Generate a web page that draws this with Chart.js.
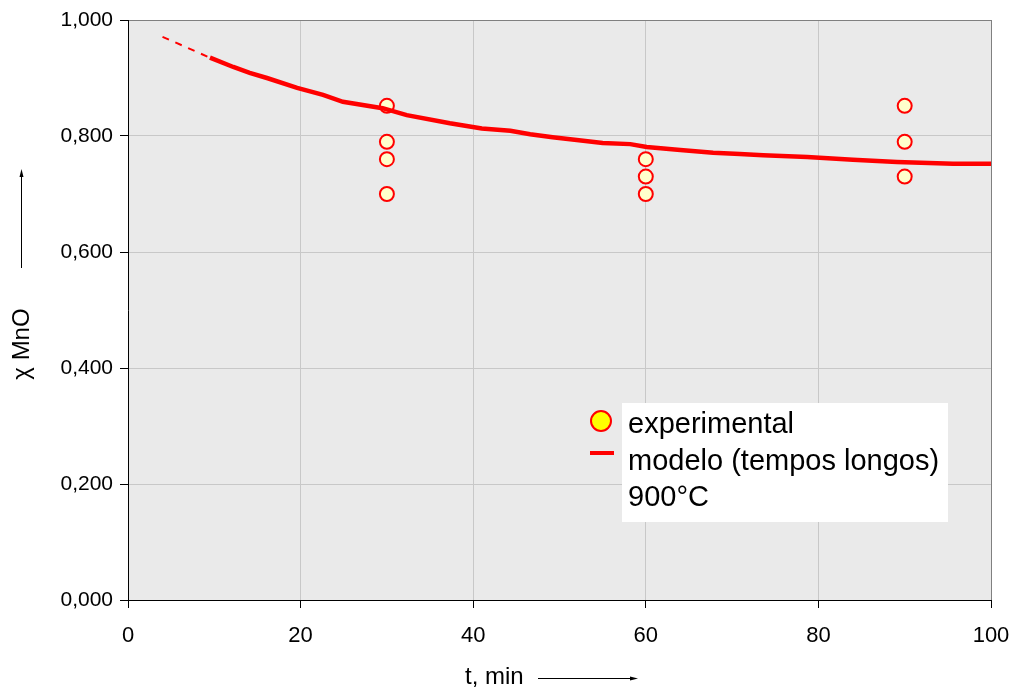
<!DOCTYPE html>
<html>
<head>
<meta charset="utf-8">
<script src="https://cdn.jsdelivr.net/npm/chart.js@4.4.0/dist/chart.umd.min.js"></script>
<style>
  html, body { margin: 0; padding: 0; background: #fff; }
  #wrap { width: 1015px; height: 688px; position: relative; }
</style>
</head>
<body>
<div id="wrap"><canvas id="chart"></canvas></div>
<script>
// experimental points (t in min, chi MnO)
const expT = [30, 30, 30, 30, 60, 60, 60, 90, 90, 90];
const expX = [0.852, 0.790, 0.760, 0.700, 0.760, 0.730, 0.700, 0.852, 0.790, 0.730];

// model (long times), dashed start then solid curve
const dashT = [4, 9.5];
const dashX = [0.971, 0.935];
const modelT = [9.5, 12.2, 14.1, 16.1, 19.6, 22.6, 24.9, 29.5, 32.3, 37.3, 41, 44.3, 46.6, 49.2,
                52, 55, 58.2, 60.1, 64, 67.8, 70.9, 73.6, 78.7, 84, 89.1, 95.6, 100];
const modelX = [0.935, 0.919, 0.909, 0.900, 0.883, 0.871, 0.859, 0.848, 0.836, 0.822, 0.813, 0.809, 0.803, 0.798,
                0.793, 0.788, 0.786, 0.781, 0.776, 0.771, 0.769, 0.767, 0.764, 0.759, 0.755, 0.752, 0.752];

const xTicks = [0, 20, 40, 60, 80, 100];
const yTickLabels = ['0,000', '0,200', '0,400', '0,600', '0,800', '1,000'];
const legendLabels = ['experimental', 'modelo (tempos longos)', '900°C'];

const toPts = (xs, ys) => xs.map((x, i) => ({ x: x, y: ys[i] }));
const FONT = '"Liberation Sans", Arial, sans-serif';

// plot background, axis titles with arrows, legend box
const decor = {
  id: 'decor',
  beforeDraw(chart) {
    const { ctx, chartArea: a } = chart;
    ctx.save();
    ctx.fillStyle = '#eaeaea';
    ctx.fillRect(a.left, a.top, a.right - a.left, a.bottom - a.top);
    ctx.restore();
  },
  afterDraw(chart) {
    const ctx = chart.ctx;
    ctx.save();
    ctx.fillStyle = '#000';
    ctx.strokeStyle = '#000';
    ctx.lineWidth = 1;

    // y title
    ctx.save();
    ctx.translate(22, 344);
    ctx.rotate(-Math.PI / 2);
    ctx.font = '24px ' + FONT;
    ctx.textAlign = 'center';
    ctx.textBaseline = 'middle';
    ctx.fillText('χ MnO', 0, 0);
    ctx.restore();
    // y arrow
    ctx.beginPath();
    ctx.moveTo(21.5, 268); ctx.lineTo(21.5, 174);
    ctx.stroke();
    ctx.beginPath();
    ctx.moveTo(21.5, 169); ctx.lineTo(19.5, 177); ctx.lineTo(23.5, 177); ctx.closePath();
    ctx.fill();

    // x title
    ctx.font = '24px ' + FONT;
    ctx.textAlign = 'left';
    ctx.textBaseline = 'middle';
    ctx.fillText('t, min', 465, 677);
    ctx.beginPath();
    ctx.moveTo(538, 678.5); ctx.lineTo(632, 678.5);
    ctx.stroke();
    ctx.beginPath();
    ctx.moveTo(638, 678.5); ctx.lineTo(630, 676.5); ctx.lineTo(630, 680.5); ctx.closePath();
    ctx.fill();

    // legend
    ctx.fillStyle = '#fff';
    ctx.fillRect(622, 403, 326, 119);
    ctx.beginPath();
    ctx.arc(601, 421, 10, 0, Math.PI * 2);
    ctx.fillStyle = '#ffff00';
    ctx.fill();
    ctx.lineWidth = 2;
    ctx.strokeStyle = '#ff0000';
    ctx.stroke();
    ctx.lineWidth = 4;
    ctx.beginPath();
    ctx.moveTo(590, 453); ctx.lineTo(614, 453);
    ctx.stroke();
    ctx.fillStyle = '#000';
    ctx.font = '29px ' + FONT;
    ctx.textBaseline = 'middle';
    legendLabels.forEach((t, i) => ctx.fillText(t, 628, 425 + i * 36.5));
    ctx.restore();
  }
};

new Chart(document.getElementById('chart'), {
  type: 'scatter',
  data: {
    datasets: [
      {
        label: 'modelo (tempos longos) dashed',
        data: toPts(dashT, dashX),
        showLine: true,
        borderColor: '#ff0000',
        borderWidth: 2,
        borderDash: [7, 7],
        pointRadius: 0,
        tension: 0
      },
      {
        label: 'modelo (tempos longos)',
        data: toPts(modelT, modelX),
        showLine: true,
        borderColor: '#ff0000',
        borderWidth: 4.5,
        pointRadius: 0,
        tension: 0
      },
      {
        label: 'experimental',
        data: toPts(expT, expX),
        pointRadius: 7,
        pointBorderWidth: 2,
        pointBorderColor: '#ff0000',
        pointBackgroundColor: '#ffffcc'
      }
    ]
  },
  options: {
    responsive: true,
    maintainAspectRatio: false,
    animation: false,
    layout: { padding: { top: 20, right: 24, left: 0, bottom: 0 } },
    plugins: { legend: { display: false }, tooltip: { enabled: false } },
    scales: {
      x: {
        type: 'linear',
        min: 0, max: 100,
        afterFit: s => { s.height = 88; s.paddingLeft = 0; s.paddingRight = 0; },
        afterBuildTicks: s => { s.ticks = xTicks.map(v => ({ value: v })); },
        ticks: { color: '#000', font: { family: FONT, size: 22 }, padding: 15, maxRotation: 0 },
        grid: {
          color: c => (c.tick && c.tick.value === 100 ? '#808080' : '#c8c8c8'),
          tickColor: '#000',
          tickLength: 8,
          lineWidth: 1
        },
        border: { color: '#000', width: 1 }
      },
      y: {
        min: 0, max: 1,
        afterFit: s => { s.width = 128; s.paddingTop = 0; s.paddingBottom = 0; },
        ticks: {
          stepSize: 0.2,
          color: '#000',
          font: { family: FONT, size: 21 },
          padding: 7,
          callback: (v, i) => yTickLabels[i]
        },
        grid: {
          color: c => (c.tick && c.tick.value === 1 ? '#808080' : '#c8c8c8'),
          tickColor: '#000',
          tickLength: 8,
          lineWidth: 1
        },
        border: { color: '#000', width: 1 }
      }
    }
  },
  plugins: [decor]
});
</script>
</body>
</html>
